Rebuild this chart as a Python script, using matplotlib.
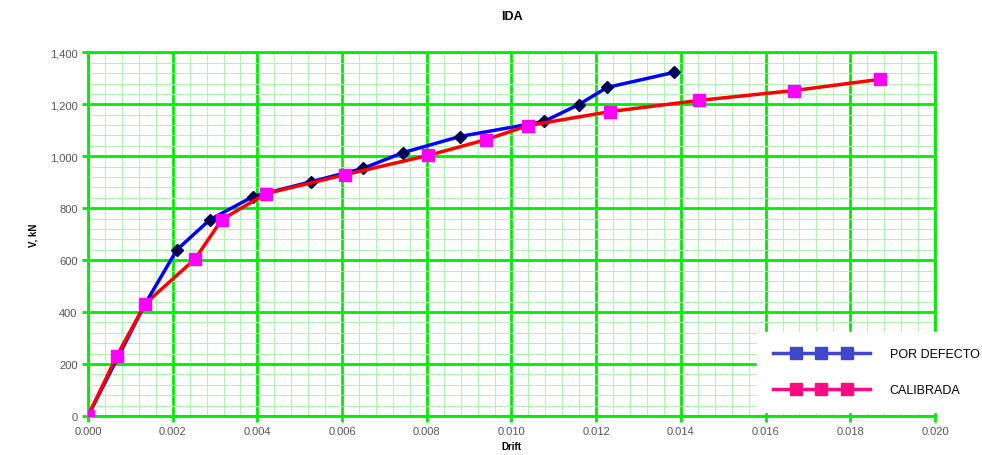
import numpy as np
import matplotlib
matplotlib.use("Agg")
import matplotlib.pyplot as plt
from matplotlib.lines import Line2D
from matplotlib.legend_handler import HandlerLine2D, HandlerTuple
from matplotlib.ticker import MultipleLocator, FuncFormatter

plt.rcParams['font.family'] = ['Liberation Sans', 'DejaVu Sans']

# POR DEFECTO (blue, diamonds)
drift_def = [0.0, 0.00135, 0.00210, 0.00288, 0.00390, 0.00527, 0.00649, 0.00744,
             0.00878, 0.01077, 0.01159, 0.01226, 0.01384]
v_def = [0, 432, 640, 756, 845, 902, 953, 1014, 1076, 1134, 1199, 1265, 1323]

# CALIBRADA (red line, magenta squares)
drift_cal = [0.0, 0.00068, 0.00135, 0.00253, 0.00316, 0.00420, 0.00607, 0.00803,
             0.00940, 0.01039, 0.01233, 0.01443, 0.01667, 0.01870]
v_cal = [0, 231, 432, 605, 756, 856, 929, 1003, 1064, 1118, 1172, 1215, 1253, 1296]

legend_labels = ["POR DEFECTO", "CALIBRADA"]

fig = plt.figure(figsize=(9.82, 4.56), dpi=100)
ax = fig.add_axes([0.0896, 0.0855, 0.8625, 0.7975])

green = '#00ee00'
ax.set_xlim(0, 0.020)
ax.set_ylim(0, 1400)
ax.xaxis.set_major_locator(MultipleLocator(0.002))
ax.xaxis.set_minor_locator(MultipleLocator(0.0004))
ax.yaxis.set_major_locator(MultipleLocator(200))
ax.yaxis.set_minor_locator(MultipleLocator(40))
ax.grid(which='major', color=green, lw=2.0, zorder=1)
ax.grid(which='minor', color='#b0f5b0', lw=0.8, zorder=0)
ax.set_axisbelow(True)
for s in ax.spines.values():
    s.set_color(green)
    s.set_linewidth(2)

ax.xaxis.set_major_formatter(FuncFormatter(lambda v, p: f"{v:.3f}"))
ax.yaxis.set_major_formatter(FuncFormatter(lambda v, p: f"{int(round(v)):,}"))
ax.tick_params(which='major', colors=green, labelcolor='#555555', labelsize=8,
               length=4, width=2, direction='out')
ax.tick_params(which='minor', length=0)

ax.plot(drift_def, v_def, color='#0000ff', lw=2.5, marker='D', ms=6,
        mfc='#000055', mec='#000055', zorder=3)
ax.plot(drift_cal, v_cal, color='#ff0000', lw=2.5, marker='s', ms=8,
        mfc='#ff00ff', mec='#ff00ff', zorder=4)

ax.set_title("IDA", fontsize=9, fontweight='bold', pad=24)
ax.set_xlabel("Drift", fontsize=7, fontweight='bold', labelpad=3)
ax.set_ylabel("V, kN", fontsize=7, fontweight='bold', labelpad=8)

# legend: full-width line with three markers bunched in the middle
hmap = {}
handles = []
for col in ['#3f48cc', '#ff0a80']:
    ln = Line2D([], [], color=col, lw=2.5)
    mk = Line2D([], [], ls='none', marker='s', ms=8, mfc=col, mec=col)
    hmap[ln] = HandlerLine2D(marker_pad=0, numpoints=2)
    hmap[mk] = HandlerLine2D(marker_pad=1.8, numpoints=3)
    handles.append((ln, mk))
hmap[tuple] = HandlerTuple(ndivide=1, pad=0)

leg = fig.legend(handles, legend_labels, handler_map=hmap, loc='upper left',
                 bbox_to_anchor=(0.771, 0.27),
                 handlelength=7.7, handletextpad=1.6,
                 frameon=True, fancybox=False, borderaxespad=0, borderpad=1.3,
                 labelspacing=1.9,
                 prop={'family': ['Liberation Sans Narrow', 'Liberation Sans'], 'size': 9})
leg.get_frame().set_facecolor('white')
leg.get_frame().set_edgecolor('white')
leg.get_frame().set_alpha(1)
leg.set_zorder(10)

fig.savefig("out.png", dpi=100, facecolor='white')
